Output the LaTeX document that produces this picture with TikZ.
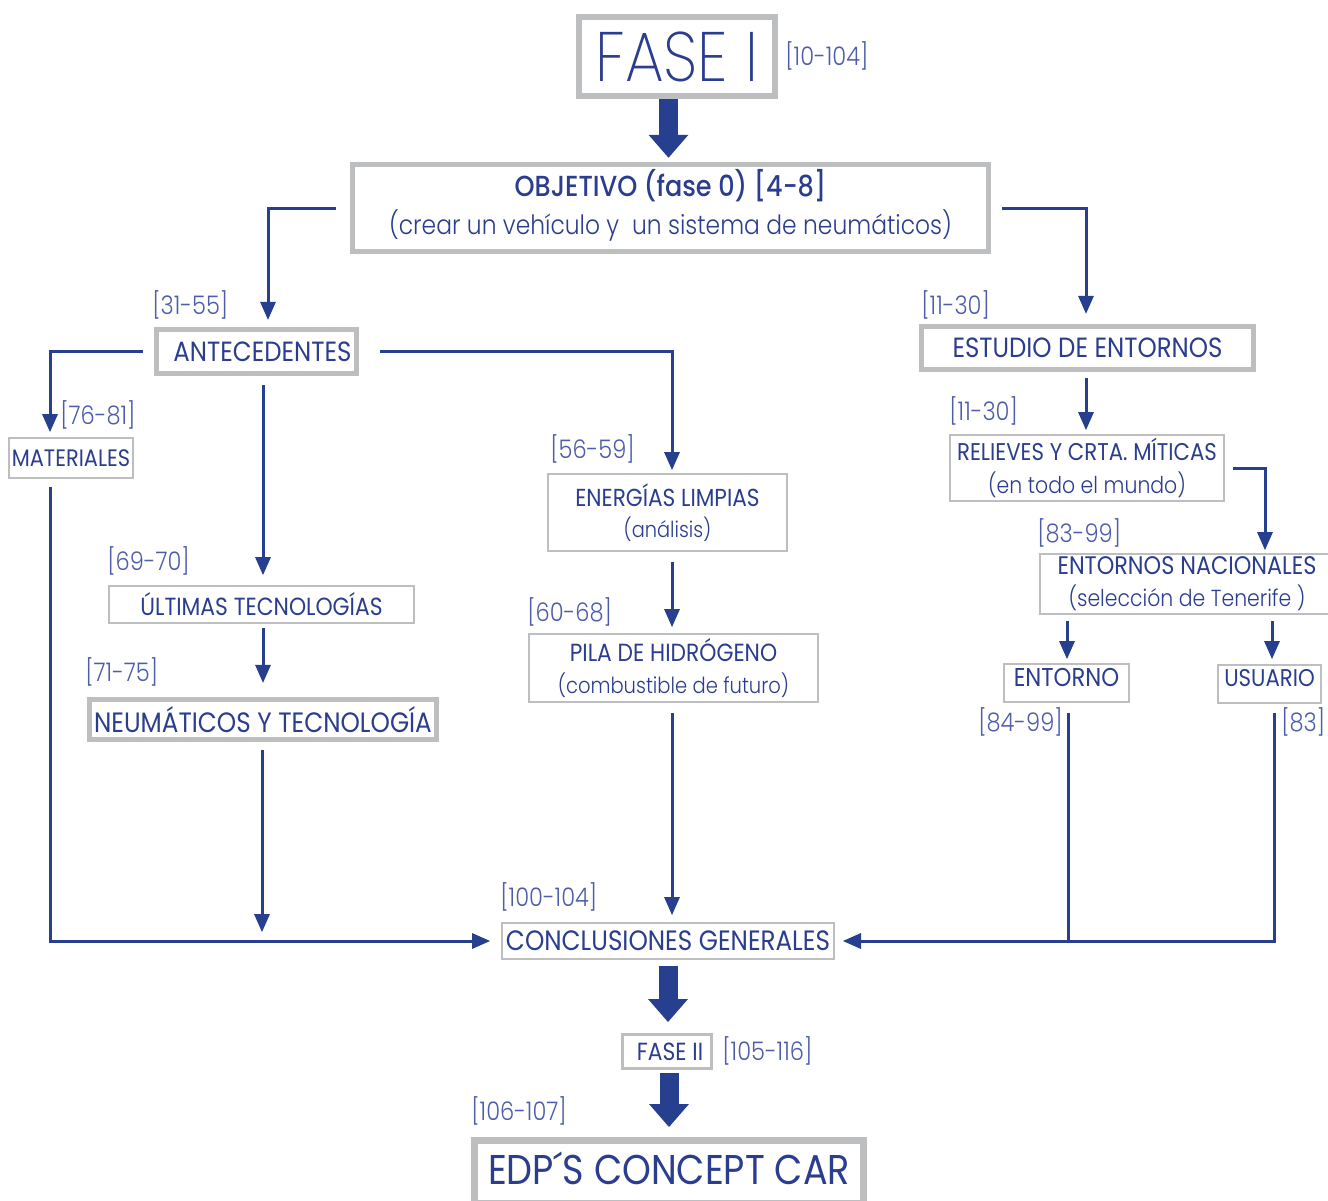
\documentclass[tikz,border=0pt]{standalone}
\usepackage{fontspec}
\usetikzlibrary{arrows.meta}
\setmainfont{Poppins}[FakeStretch=0.88]
\IfFontExistsTF{Poppins Light}
  {\newfontfamily\lightf{Poppins Light}[FakeStretch=0.88]}
  {\newfontfamily\lightf{Poppins}[FakeStretch=0.88]}
\IfFontExistsTF{Poppins ExtraLight}
  {\newfontfamily\thinf{Poppins ExtraLight}[FakeStretch=0.88]}
  {\newfontfamily\thinf{Poppins}[FakeStretch=0.88]}
\IfFontExistsTF{Poppins Medium}
  {\newfontfamily\medf{Poppins Medium}[FakeStretch=0.88]}
  {\newfontfamily\medf{Poppins}[FakeStretch=0.88]}
% font size with a fixed line pitch
\newcommand{\fsz}[1]{\fontsize{#1}{1.2\dimexpr#1pt\relax}\selectfont}
\newcommand{\fszb}[2]{\fontsize{#1}{#2}\selectfont}

\definecolor{navy}{HTML}{26408F}
\definecolor{inkblue}{HTML}{2B3D8E}
\definecolor{refblue}{HTML}{4D5DA9}
\definecolor{frame}{HTML}{BDBEC0}

\tikzset{
  box/.style={draw=frame, fill=white, inner sep=0pt, text=inkblue, align=center},
  heavyframe/.style={line width=2.75pt},
  lightframe/.style={line width=1pt},
  conn/.style={draw=navy, line width=1.5pt, -{Triangle[width=8pt,length=9pt,line width=0pt]}},
  plainline/.style={draw=navy, line width=1.5pt},
  bigarrow/.style={draw=navy, line width=9.5pt, -{Triangle[width=20pt,length=11.5pt,line width=0pt]}},
  ref/.style={text=refblue, font=\lightf\fsz{12.8}, inner sep=0pt}
}

\begin{document}
\begin{tikzpicture}[x=0.5pt,y=-0.5pt]
\useasboundingbox (0,0) rectangle (1328,1200);
\fill[white] (0,0) rectangle (1328,1200);

% ---- boxes ----
\node[box, line width=3pt, minimum width=98pt, minimum height=39.5pt, font=\thinf\fsz{35}] (fase1) at (677,56.5) {FASE I};
\node[box, heavyframe, minimum width=318pt, minimum height=43.5pt, font=\fszb{14.5}{19pt}] (obj) at (670.5,208)
  {{\medf\fszb{14.5}{19pt}OBJETIVO (fase 0) [4-8]}\\{\lightf\fszb{13.3}{19pt}(crear un vehículo y\ \ un sistema de neumáticos)}\vspace*{3pt}};
\node[box, heavyframe, minimum width=100pt, minimum height=22pt, font=\fsz{13.9}] (ante) at (256.5,351.5) {\hspace*{6pt}ANTECEDENTES};
\node[box, heavyframe, minimum width=166pt, minimum height=21.5pt, font=\fsz{13.9}] (estudio) at (1087.5,348) {ESTUDIO DE ENTORNOS};
\node[box, lightframe, minimum width=62pt, minimum height=20pt, font=\fsz{11.9}] (mat) at (71,458) {MATERIALES};
\node[box, lightframe, minimum width=119.5pt, minimum height=38.5pt, font=\fszb{12.3}{15.5pt}] (energ) at (667.5,512.5)
  {ENERGÍAS LIMPIAS\\{\lightf\fszb{11}{15.5pt}(análisis)}};
\node[box, lightframe, minimum width=144.5pt, minimum height=34pt, font=\fszb{12.4}{16pt}] (pila) at (673.5,668)
  {PILA DE HIDRÓGENO\\{\lightf\fszb{11.1}{16pt}(combustible de futuro)}};
\node[box, lightframe, minimum width=152.5pt, minimum height=18.5pt, font=\fsz{12.4}] (ultimas) at (261.5,604.5) {ÚLTIMAS TECNOLOGÍAS};
\node[box, heavyframe, minimum width=173.5pt, minimum height=20pt, font=\fsz{14}] (neum) at (263,719.5) {NEUMÁTICOS Y TECNOLOGÍA};
\node[box, lightframe, minimum width=166pt, minimum height=18pt, font=\fsz{14}] (concl) at (668,941) {CONCLUSIONES GENERALES};
\node[box, lightframe, minimum width=137pt, minimum height=33pt, font=\fszb{12.1}{16.5pt}] (relieves) at (1087,468)
  {RELIEVES Y CRTA. MÍTICAS\\{\lightf\fszb{11.6}{16.5pt}(en todo el mundo)}};
\node[box, lightframe, minimum width=147pt, minimum height=30pt, font=\fszb{12.7}{16pt}] (nac) at (1187,584)
  {ENTORNOS NACIONALES\\{\lightf\fszb{11.6}{16pt}(selección de Tenerife )}};
\node[box, lightframe, minimum width=62.5pt, minimum height=19pt, text depth=6pt, font=\fsz{12.9}] (entorno) at (1066.5,683) {ENTORNO};
\node[box, lightframe, minimum width=51.5pt, minimum height=19pt, text depth=6pt, font=\fsz{12.1}] (usuario) at (1269.5,684) {USUARIO};
\node[box, line width=1.5pt, minimum width=44.5pt, minimum height=17pt, font=\fsz{12.4}] (fase2) at (667,1051.5) {\hspace*{3pt}FASE II};
\node[box, line width=3.5pt, minimum width=194.5pt, minimum height=31.5pt, text depth=4pt, font=\fsz{20.8}] (edp) at (669,1172) {EDP´S CONCEPT CAR};

% ---- page references ----
\node[ref, anchor=west] (r1) at (785,56) {[10-104]};
\node[ref, anchor=west] (r2) at (152,305) {[31-55]};
\node[ref, anchor=west] (r3) at (921,305) {[11-30]};
\node[ref, anchor=west] (r4) at (60,415) {[76-81]};
\node[ref, anchor=west] (r5) at (550,449) {[56-59]};
\node[ref, anchor=west] (r6) at (949,411) {[11-30]};
\node[ref, anchor=west] (r7) at (107,561) {[69-70]};
\node[ref, anchor=west] (r8) at (85,672) {[71-75]};
\node[ref, anchor=west] (r9) at (527,612) {[60-68]};
\node[ref, anchor=west] (r10) at (1037,533) {[83-99]};
\node[ref, anchor=east] (r11) at (1063,722) {[84-99]};
\node[ref, anchor=west] (r12) at (1281,722) {[83]};
\node[ref, anchor=west] (r13) at (500,897) {[100-104]};
\node[ref, anchor=west] (r14) at (722,1051) {[105-116]};
\node[ref, anchor=west] (r15) at (471,1111) {[106-107]};

% ---- main flow (thick arrows) ----
\draw[bigarrow] ([xshift=-4.25pt]fase1.south) -- ([xshift=-1pt,yshift=2pt]obj.north);
\draw[bigarrow] ([yshift=-3pt]concl.south) -- ([xshift=0.5pt,yshift=5.5pt]fase2.north);
\draw[bigarrow] ([xshift=1pt,yshift=-1.5pt]fase2.south) -- ([yshift=5pt]edp.north);

% ---- connectors ----
\draw[conn] ([xshift=-7pt]obj.west) -| ([xshift=5.75pt,yshift=3.5pt]ante.north);
\draw[conn] ([xshift=5.5pt]obj.east) -| ([xshift=-0.75pt,yshift=5pt]estudio.north);
\draw[conn] ([xshift=-5.5pt]ante.west) -| ([xshift=-10.5pt,yshift=2.5pt]mat.north);
\draw[conn] ([xshift=10.5pt]ante.east) -| ([xshift=2.25pt,yshift=1.5pt]energ.north);
\draw[conn] ([xshift=3.25pt,yshift=-4.5pt]ante.south) -- ([xshift=0.75pt,yshift=5pt]ultimas.north);
\draw[conn] ([xshift=0.75pt,yshift=-2pt]ultimas.south) -- ([yshift=7pt]neum.north);
\coordinate (neumEnd) at (262,932);
\draw[conn] ([xshift=-0.5pt,yshift=-4pt]neum.south) -- (neumEnd);
\draw[conn] ([xshift=-10.5pt,yshift=-4pt]mat.south) |- ([xshift=-5.5pt]concl.west);
\draw[conn] ([xshift=2.25pt,yshift=-5pt]energ.south) -- ([xshift=-0.75pt,yshift=3pt]pila.north);
\draw[conn] ([xshift=-0.75pt,yshift=-5pt]pila.south) -- ([xshift=2pt,yshift=3.5pt]concl.north);
\draw[conn] ([xshift=-0.75pt,yshift=-3pt]estudio.south) -- ([xshift=-0.5pt,yshift=2pt]relieves.north);
\draw[conn] ([xshift=4pt]relieves.east) -| ([xshift=39pt,yshift=1.5pt]nac.north);
\draw[conn] ([xshift=-60pt,yshift=-3pt]nac.south) -- ([xshift=0.25pt,yshift=2pt]entorno.north);
\draw[conn] ([xshift=42.5pt,yshift=-3pt]nac.south) -- ([xshift=1.25pt,yshift=2.5pt]usuario.north);
\coordinate (join) at (1068,941);
\draw[plainline] ([xshift=0.75pt,yshift=-5pt]entorno.south) -- (join);
\draw[conn] ([xshift=2.25pt,yshift=-4.5pt]usuario.south) |- ([xshift=4pt]concl.east);
\end{tikzpicture}
\end{document}
